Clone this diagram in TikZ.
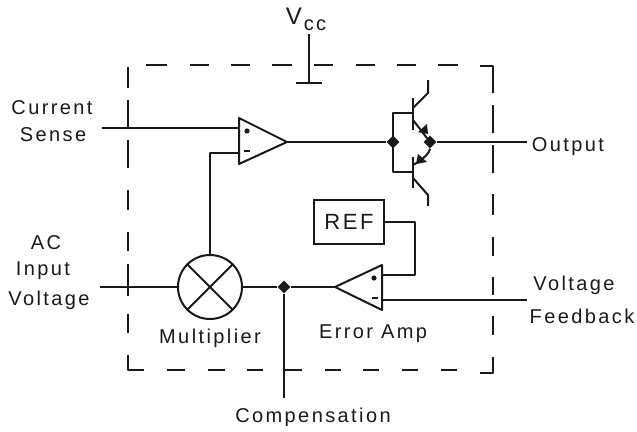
\documentclass[tikz,border=0pt]{standalone}
\usepackage{fontspec}
\setmainfont[LetterSpace=12]{Liberation Sans}
\usetikzlibrary{shapes.geometric}
\tikzset{
  wire/.style={line width=2pt,line join=round,draw=black!90},
  junction/.style={diamond,fill=black!90,inner sep=0pt,minimum size=13pt},
  lab/.style={font=\fontsize{20}{22}\selectfont,inner sep=0pt,anchor=center,text=black!90},
  frame/.style={line width=1.5pt,draw=black!90,line join=round}
}
\begin{document}
\begin{tikzpicture}[x=1pt,y=-1pt]
\useasboundingbox (0,0) rectangle (637,431);
% frame, dash by dash
\foreach \a/\b in {146/167,190/209,231/250,272/292,314/333,356/375,397/416,438/458}
  \draw[frame] (\a,65) -- (\b,65);
\foreach \a/\b in {167/185,208/225,247/263,283/302,325/341,363/379,402/418,441/457}
  \draw[frame] (\a,370) -- (\b,370);
\foreach \a/\b in {67/88,100/128,140/168,190/210,232/251,264/296,314/333}
  \draw[frame] (128,\a) -- (128,\b);
\foreach \a/\b in {105/133,145/173,194/215,237/256,277/295,316/335}
  \draw[frame] (493,\a) -- (493,\b);
\draw[frame] (128,355) -- (128,370) -- (144,370);
\draw[frame] (480,66) -- (493,66) -- (493,93);
\draw[frame] (480,373) -- (493,373) -- (493,357);
% op amps
\coordinate (a1tl) at (239,118); \coordinate (a1bl) at (239,164); \coordinate (a1o) at (287,142);
\coordinate (a2tr) at (382,265); \coordinate (a2br) at (382,310); \coordinate (a2o) at (335,287);
\draw[wire] (a1tl) -- (a1o) -- (a1bl) -- cycle;
\draw[wire] (a2tr) -- (a2o) -- (a2br) -- cycle;
\fill[black!90] (247,131) circle (2.6pt);
\draw[wire] (244,151) -- (250,151);
\fill[black!90] (374,278) circle (2.6pt);
\draw[wire] (372,298) -- (378,298);
% multiplier
\node[circle,draw=black!90,line width=2pt,minimum size=64pt,inner sep=0pt] (mul) at (210,287) {};
\draw[wire] (mul.45) -- (mul.225);
\draw[wire] (mul.135) -- (mul.315);
% REF
\node[draw=black!90,line width=2pt,minimum width=70pt,minimum height=44pt,inner sep=0pt,lab,font=\fontsize{22}{24}\selectfont] (ref) at (349,222) {REF};
% junctions
\node[junction] (j1) at (284,287) {};
\node[junction] (j2) at (393,142) {};
\node[junction] (j3) at (430,142) {};
% free ends
\coordinate (cs) at (102,128);
\coordinate (ac) at (100,287);
\coordinate (out) at (527,142);
\coordinate (vf) at (527,300);
\coordinate (comp) at (284,398);
\coordinate (vcct) at (309,34);
\coordinate (vccb) at (309,83);
% wires
\draw[wire] (cs) -- (239,128);
\draw[wire] (mul.north) -- (210,153) -- (239,153);
\draw[wire] (a1o) -- (j2);
\draw[wire] (j3) -- (out);
\draw[wire] (ac) -- (mul.west);
\draw[wire] (mul.east) -- (j1) -- (a2o);
\draw[wire] (j1) -- (comp);
\draw[wire] (ref.east) -- (415,222) -- (415,275) -- (382,275);
\draw[wire] (382,300) -- (vf);
\draw[wire] (vcct) -- (vccb);
\draw[wire] (296,83) -- (322,83);
% transistors
\draw[wire] (413,113) -- (393,113) -- (393,172) -- (413,172);
\draw[wire,line width=2.2pt] (413,98) -- (413,130);
\draw[wire,line width=2.2pt] (413,157) -- (413,188);
\draw[wire] (413,108) -- (428,93) -- (428,80);
\draw[wire] (413,178) -- (428,195) -- (428,206);
\draw[wire] (413,120) -- (j3);
\draw[wire] (j3) .. controls (430,152) and (424,159) .. (413,165);
\fill[black!90] (428,134) -- (427,124) -- (418,132) -- cycle;
\fill[black!90] (416,164) -- (418,154) -- (427,162) -- cycle;
% labels
\node[lab,font=\fontsize{24}{24}\selectfont] at (294,16) {V};
\node[lab] at (315,25) {cc};
\node[lab] at (52,108) {Current};
\node[lab] at (53,135) {Sense};
\node[lab] at (568,147) {Output};
\node[lab] at (46,243) {AC};
\node[lab] at (43,271) {Input};
\node[lab] at (49,300) {Voltage};
\node[lab] at (210,338) {Multiplier};
\node[lab] at (373,334) {Error Amp};
\node[lab] at (574,285) {Voltage};
\node[lab] at (582,316) {Feedback};
\node[lab] at (313,417) {Compensation};
\end{tikzpicture}
\end{document}
